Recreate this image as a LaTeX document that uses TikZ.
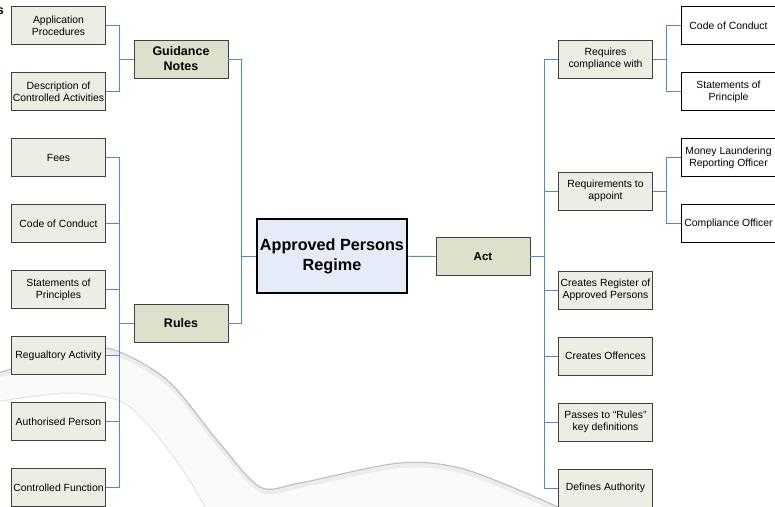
\documentclass[tikz,border=0pt]{standalone}
\usepackage{fontspec}
\setmainfont{Liberation Sans}
\usetikzlibrary{positioning}
\definecolor{linkblue}{RGB}{84, 134, 210}
\definecolor{leafgray}{RGB}{237, 237, 227}
\definecolor{branchgreen}{RGB}{221, 225, 203}
\definecolor{rootblue}{RGB}{229, 235, 247}
\definecolor{edgegray}{RGB}{64, 64, 64}

\begin{document}
\begin{tikzpicture}[
    x=1pt, y=-1pt,
    node distance=27.1pt,
    leaf/.style={rectangle, draw=edgegray, fill=leafgray, line width=0.9pt, minimum width=94pt,
                 minimum height=38pt, inner sep=1pt, align=center, font=\fontsize{10.4}{12}\selectfont},
    outer/.style={leaf, fill=white, draw=black},
    branch/.style={leaf, fill=branchgreen, font=\fontsize{12.5}{15}\selectfont\bfseries},
    root/.style={rectangle, draw=black, line width=2.6pt, fill=rootblue, minimum width=150pt,
                 minimum height=74pt, inner sep=0pt, align=center, font=\fontsize{16.2}{20}\selectfont\bfseries},
    link/.style={linkblue, line width=1pt}
]
    \useasboundingbox (0,0) rectangle (775,506);
    \clip (0,0) rectangle (775,506);

    % Swoosh in the background
    \fill[gray!4] plot[smooth] coordinates {(-5,374) (50,358) (107,348) (167,380) (217,440) (260,487) (300,483) (400,463) (467,470) (565,510)}
        -- (207,510) -- plot[smooth] coordinates {(207,510) (183,470) (150,427) (120,401) (67,393) (-5,402)} -- cycle;
    \draw[gray!15, line width=4pt] plot[smooth] coordinates {(-5,377) (50,361) (107,351) (167,383) (217,443) (260,490) (300,486) (400,466) (467,473) (565,513)};
    \draw[gray!50, line width=1.2pt] plot[smooth] coordinates {(-5,374) (50,358) (107,348) (167,380) (217,440) (260,487) (300,483) (400,463) (467,470) (565,510)};
    \draw[gray!22, line width=1pt] plot[smooth] coordinates {(207,510) (183,470) (150,427) (120,401) (67,393) (-5,402)};

    % Centre
    \node[root] (apr) at (332,256) {Approved Persons\\Regime};
    \node[branch, font=\fontsize{11.5}{14}\selectfont\bfseries] (act) at (483,256.5) {Act};
    \node[branch] (guid) at (181,59) {Guidance\\Notes};
    \node[branch] (rules) at (181,323) {Rules};
    \node[font=\fontsize{12.5}{15}\selectfont\bfseries, anchor=east, inner sep=0pt] (cut) at (4,11) {s};

    % Left leaves
    \node[leaf] (app) at (58.5,25.5) {Application\\Procedures};
    \node[leaf, below=of app] (desc) {Description of\\Controlled Activities};
    \node[leaf, below=of desc] (fees) {Fees};
    \node[leaf, below=of fees] (coc) {Code of Conduct};
    \node[leaf, below=of coc] (sop) {Statements of\\Principles};
    \node[leaf, below=of sop] (reg) {Regualtory Activity};
    \node[leaf, below=of reg] (auth) {Authorised Person};
    \node[leaf, below=of auth] (ctrl) {Controlled Function};

    % Right leaves
    \node[leaf] (req) at (605.5,59) {Requires\\compliance with};
    \node[leaf] (appoint) at (605.5,191) {Requirements to\\appoint};
    \node[leaf] (register) at (605.5,290) {Creates Register of\\Approved Persons};
    \node[leaf, below=of register] (offences) {Creates Offences};
    \node[leaf, below=of offences] (passes) {Passes to “Rules”\\key definitions};
    \node[leaf, below=of passes] (defines) {Defines Authority};

    % Outer leaves
    \node[outer] (coc2) at (728.5,25.5) {Code of Conduct};
    \node[outer, below=of coc2] (sop2) {Statements of\\Principle};
    \node[outer, below=of sop2] (mlro) {Money Laundering\\Reporting Officer};
    \node[outer, below=of mlro] (co) {Compliance Officer};

    % Links
    \foreach \kid in {app,desc} \draw[link] (guid.west) -- ++(-14,0) |- (\kid.east);
    \foreach \kid in {fees,coc,sop,reg,auth,ctrl} \draw[link] (rules.west) -- ++(-14,0) |- (\kid.east);
    \foreach \kid in {guid,rules} \draw[link] (apr.west) -- ++(-14,0) |- (\kid.east);
    \draw[link] (apr) -- (act);
    \foreach \kid in {req,appoint,register,offences,passes,defines} \draw[link] (act.east) -- ++(14,0) |- (\kid.west);
    \foreach \kid in {coc2,sop2} \draw[link] (req.east) -- ++(14,0) |- (\kid.west);
    \foreach \kid in {mlro,co} \draw[link] (appoint.east) -- ++(14,0) |- (\kid.west);
\end{tikzpicture}
\end{document}
